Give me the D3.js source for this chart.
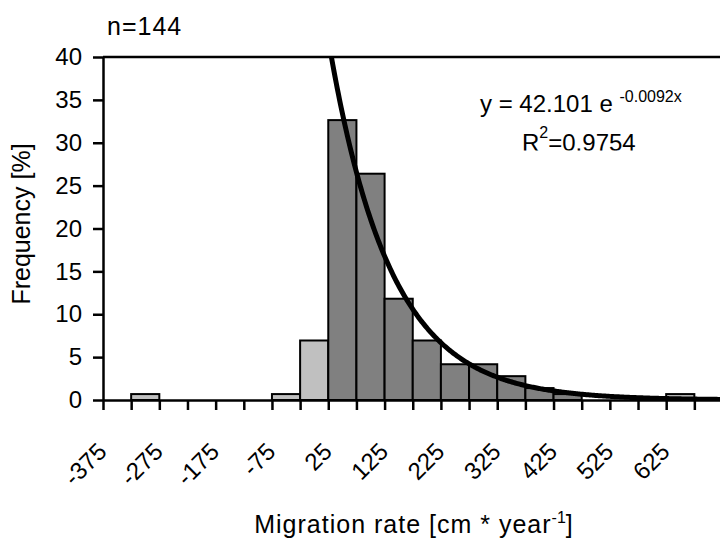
<!DOCTYPE html>
<html>

<head>
    <meta charset="utf-8">
    <style>
        body {
            margin: 0;
            background: #fff;
        }

        svg {
            display: block;
            font-family: 'Liberation Sans', Arial, sans-serif;
        }

        .axis .tick line {
            stroke: #000;
            stroke-width: 2.5;
        }

        .axis .domain {
            stroke: #000;
            stroke-width: 2.5;
        }

        .axis .tick text {
            font-size: 24px;
            fill: #000;
        }
    </style>
</head>

<body>
    <svg width="720" height="540"></svg>
</body>

<script src="https://d3js.org/d3.v7.min.js"></script>

<script>
    // histogram bins (centre of each 50 cm/yr class) and frequency in %
    let binCenters = [-375, -325, -275, -225, -175, -125, -75, -25, 25, 75, 125,
        175, 225, 275, 325, 375, 425, 475, 525, 575, 625, 675]
    let frequency = [0, 0.69, 0, 0, 0, 0, 0.69, 6.94, 32.64, 26.39, 11.81,
        6.94, 4.17, 4.17, 2.78, 1.39, 0.69, 0, 0, 0, 0.69, 0]
    // bins used for the exponential fit (dark bars)
    let fitted = [false, false, false, false, false, false, false, false, true, true, true,
        true, true, true, true, true, true, true, true, true, false, false]

    let xTicks = [-400, -350, -300, -250, -200, -150, -100, -50, 0, 50, 100, 150,
        200, 250, 300, 350, 400, 450, 500, 550, 600, 650, 700]
    let xLabels = [-375, -275, -175, -75, 25, 125, 225, 325, 425, 525, 625]
    let yTicks = [0, 5, 10, 15, 20, 25, 30, 35, 40]

    // trendline y = 42.101 e^(-0.0092x)
    let fitA = 42.101
    let fitB = -0.0092

    let svg = d3.select("svg")

    let x = d3.scaleLinear()
        .domain([-400, 700])
        .range([103, 722.5])

    let y = d3.scaleLinear()
        .domain([0, 40])
        .range([400, 57])

    let binWidth = 50

    svg.append("clipPath")
        .attr("id", "plot-clip")
        .append("rect")
        .attr("x", x(-400))
        .attr("y", y(40))
        .attr("width", x(700) - x(-400))
        .attr("height", y(0) - y(40))

    // bars
    let bins = binCenters.map((c, i) => ({ c: c, v: frequency[i], fit: fitted[i] }))
        .filter(d => d.v > 0)

    svg.append("g")
        .selectAll("rect")
        .data(bins)
        .join("rect")
        .attr("x", d => x(d.c - binWidth / 2))
        .attr("width", d => x(d.c + binWidth / 2) - x(d.c - binWidth / 2))
        .attr("y", d => y(d.v))
        .attr("height", d => y(0) - y(d.v))
        .attr("fill", d => d.fit ? "#808080" : "#c0c0c0")
        .attr("stroke", "#000")
        .attr("stroke-width", 2)

    // exponential trendline
    let curveX = d3.range(0, 701, 2)
    let line = d3.line()
        .x(d => x(d))
        .y(d => y(fitA * Math.exp(fitB * d)))

    svg.append("path")
        .datum(curveX)
        .attr("clip-path", "url(#plot-clip)")
        .attr("fill", "none")
        .attr("stroke", "#000")
        .attr("stroke-width", 5)
        .attr("d", line)

    // top frame line
    svg.append("line")
        .attr("x1", x(-400))
        .attr("x2", x(700))
        .attr("y1", y(40))
        .attr("y2", y(40))
        .attr("stroke", "#000")
        .attr("stroke-width", 2.5)

    // y axis
    svg.append("g")
        .attr("class", "y axis")
        .attr("transform", `translate(${x(-400)},0)`)
        .call(d3.axisLeft(y)
            .tickValues(yTicks)
            .tickSize(10)
            .tickSizeOuter(0)
            .tickPadding(11))

    // x axis: tick marks at bin edges
    svg.append("g")
        .attr("class", "x axis")
        .attr("transform", `translate(0,${y(0)})`)
        .call(d3.axisBottom(x)
            .tickValues(xTicks)
            .tickSize(10)
            .tickSizeOuter(0)
            .tickFormat(""))

    // x labels at every other bin centre, rotated
    svg.append("g")
        .attr("class", "x axis labels")
        .attr("transform", `translate(0,${y(0)})`)
        .call(d3.axisBottom(x)
            .tickValues(xLabels)
            .tickSize(0)
            .tickFormat(d => String(d)))
        .call(g => g.select(".domain").remove())
        .call(g => g.selectAll(".tick text")
            .attr("y", 0)
            .attr("dy", 0)
            .attr("text-anchor", "end")
            .attr("transform", "translate(-9.5,53) rotate(-45)"))

    function set_text(text, tx, ty, size, anchor) {
        return svg.append("text")
            .attr("x", tx)
            .attr("y", ty)
            .attr("font-size", size)
            .attr("text-anchor", anchor || "start")
            .attr("fill", "#000")
            .text(text)
    }

    set_text("n=144", 107, 35, "25px")
        .attr("letter-spacing", "1px")

    // y title
    svg.append("text")
        .attr("transform", "translate(30,224) rotate(-90)")
        .attr("text-anchor", "middle")
        .attr("font-size", "25px")
        .text("Frequency [%]")

    // x title
    let xt = set_text("Migration rate [cm * year", 414, 533, "25px", "middle")
        .attr("letter-spacing", "1px")
    xt.append("tspan").attr("font-size", "16px").attr("letter-spacing", "0px").attr("dy", -10).text("-1")
    xt.append("tspan").attr("dy", 10).text("]")

    // equation
    let eq = set_text("y = 42.101 e ", 480, 112, "24px")
    eq.append("tspan").attr("font-size", "16px").attr("dy", -10).text("-0.0092x")

    svg.append("clipPath")
        .attr("id", "r2-clip")
        .append("rect")
        .attr("x", 500).attr("y", 110).attr("width", 200).attr("height", 40.5)

    let r2 = set_text("R", 522, 150.5, "24px")
        .attr("clip-path", "url(#r2-clip)")
    r2.append("tspan").attr("font-size", "16px").attr("dy", -13).text("2")
    r2.append("tspan").attr("dy", 13).text("=0.9754")
</script>

</html>
